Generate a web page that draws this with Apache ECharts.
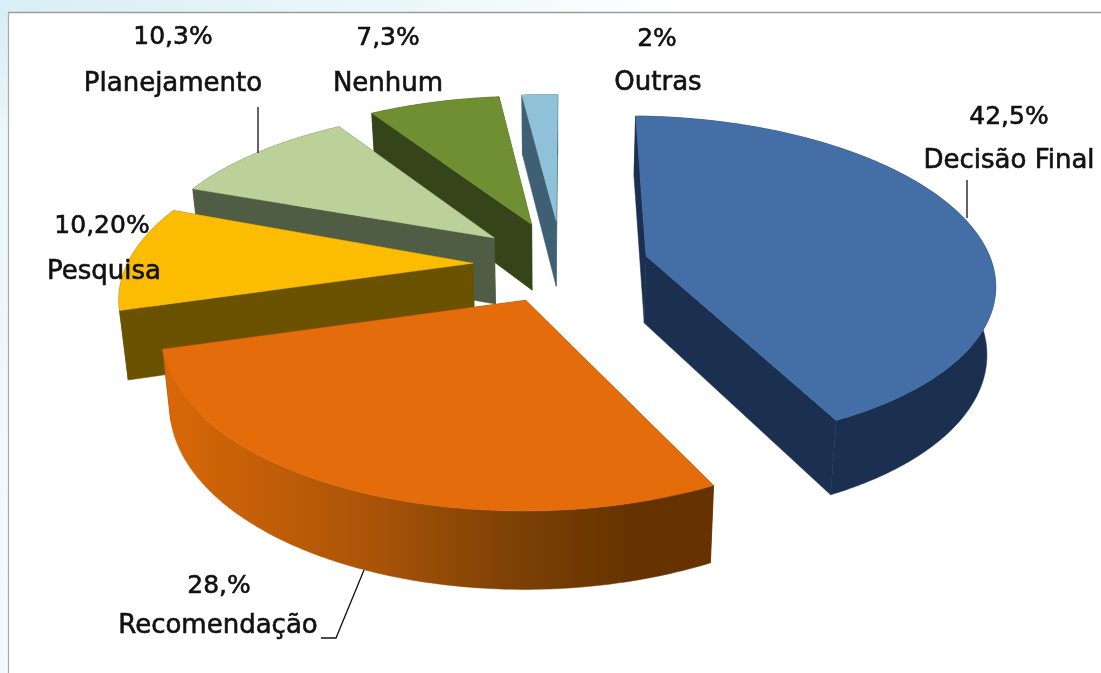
<!DOCTYPE html>
<html><head><meta charset="utf-8">
<style>html,body{margin:0;padding:0;background:#fff}#c{width:1101px;height:673px}</style>
<script src="https://cdn.jsdelivr.net/npm/echarts@6/dist/echarts.min.js"></script>
</head><body><div id="c"></div>
<script>
const categories = ['Decisão Final','Recomendação','Pesquisa','Planejamento','Nenhum','Outras'];
const values = [42.5,28,10.2,10.3,7.3,2];
const percentLabels = ['42,5%','28,%','10,20%','10,3%','7,3%','2%'];

// styling / layout tables
const topColors  = ['#436ea6','#e46c0a','#fcbc02','#bcd09a','#6f8f32','#8fc2d8'];
const wallColors = ['#1b3050','#663300','#6b5200','#4f5d45','#36441a','#3f5f74'];
const explode    = [0.26,0.218,0.235,0.25,0.29,0.30];
const apexNudge  = [[3,-2],[3,0],[0,-2],[5,-4],[8,0],[5,0]];
const arcNudge   = [[-2,-6],[8,0],[3,0],[0,-1],[0,-1],[-1,0]];
const drawOrder  = [5,4,3,2,0,1];
const labelPos = [[1009,117,1009,161],[219,586,218,626],[102,226,104,272],[173,37,173,84],[388,38,388,84],[657,39,658,83]];
const leaders = [[[967,180],[967,218]],[[321,638],[336,638],[364,570]],null,[[258,107],[258,153]],null,null];

const CX=555, CY=267, R=350, RY=162, K=0.17, START=1.4;
const total = values.reduce((a,b)=>a+b,0);
function project(U,V){const s=1/(1+K*V);return [CX+R*U*s, CY-RY*V*s];}
function drop(p){const h=60+0.045*(p[1]-100);return [CX+(p[0]-CX)*0.98,p[1]+h];}
function sliceRange(i){let a=0;for(let j=0;j<i;j++)a+=values[j];
  return [START+a/total*360, START+(a+values[i])/total*360];}

function renderSlice(params,api){
  const i=api.value(0);
  const [a0,a1]=sliceRange(i), mid=(a0+a1)/2*Math.PI/180;
  const ex=Math.sin(mid)*explode[i], ey=Math.cos(mid)*explode[i];
  const a=project(ex,ey), apex=[a[0]+apexNudge[i][0],a[1]+apexNudge[i][1]], arc=[];
  const n=Math.max(8,Math.round((a1-a0)*1.5));
  for(let t=0;t<=n;t++){const an=(a0+(a1-a0)*t/n)*Math.PI/180;
    const q=project(ex+Math.sin(an),ey+Math.cos(an));arc.push([q[0]+arcNudge[i][0],q[1]+arcNudge[i][1]]);}
  const arcB=arc.map(drop), apexB=drop(apex);
  let wallFill=wallColors[i];
  if(i===1){wallFill=new echarts.graphic.LinearGradient(0,0,1,0,[
    {offset:0,color:'#d96808'},{offset:0.38,color:'#aa5408'},{offset:0.62,color:'#7f4205'},{offset:0.85,color:'#663300'},{offset:1,color:'#663300'}]);}
  const poly=(pts,fill)=>({type:'polygon',shape:{points:pts},style:{fill:fill,stroke:fill,lineWidth:0.5}});
  const c=[];
  c.push(poly([apex,arc[0],arcB[0],apexB],wallColors[i]));
  c.push(poly([apex,arc[n],arcB[n],apexB],wallColors[i]));
  c.push(poly(arc.concat(arcB.slice().reverse()),wallFill));
  c.push(poly([apex].concat(arc),topColors[i]));
  return {type:'group',children:c};
}
function renderLabel(params,api){
  const i=api.value(0), p=labelPos[i], c=[];
  const txt=(s,x,y,size)=>({type:'text',style:{text:s,x:x,y:y,align:'center',verticalAlign:'middle',
    font:size+'px "DejaVu Sans"',fill:'#111',stroke:'#111',lineWidth:0.6}});
  c.push(txt(percentLabels[i],p[0],p[1],25));
  c.push(txt(categories[i],p[2],p[3],26));
  if(leaders[i])c.push({type:'polyline',shape:{points:leaders[i]},style:{fill:null,stroke:'#111',lineWidth:1.3}});
  return {type:'group',children:c};
}
const chart=echarts.init(document.getElementById('c'),null,{renderer:'canvas'});
chart.setOption({
  animation:false,
  backgroundColor:'#ffffff',
  graphic:[
    {type:'rect',z:0,shape:{x:0,y:0,width:1101,height:12},style:{fill:new echarts.graphic.LinearGradient(0,0,1,0,[{offset:0,color:'#d9eef5'},{offset:0.4,color:'#eef8fb'},{offset:0.62,color:'#ffffff'},{offset:1,color:'#ffffff'}])}},
    {type:'rect',z:0,shape:{x:0,y:12,width:8,height:661},style:{fill:new echarts.graphic.LinearGradient(0,0,0,1,[{offset:0,color:'#d9eef5'},{offset:0.2,color:'#ecf7fb'},{offset:1,color:'#f2fafd'}])}},
    {type:'line',z:1,shape:{x1:8,y1:12.5,x2:1101,y2:12.5},style:{stroke:'#9c9c9c',lineWidth:1.5}},
    {type:'line',z:1,shape:{x1:8.5,y1:12,x2:8.5,y2:673},style:{stroke:'#a8a8a8',lineWidth:1.2}}
  ],
  series:[
    {type:'custom',coordinateSystem:'none',z:2,silent:true,renderItem:renderSlice,data:drawOrder.map(i=>[i,values[i]])},
    {type:'custom',coordinateSystem:'none',z:3,silent:true,renderItem:renderLabel,data:categories.map((c,i)=>[i,values[i]])}
  ]
});
</script></body></html>
